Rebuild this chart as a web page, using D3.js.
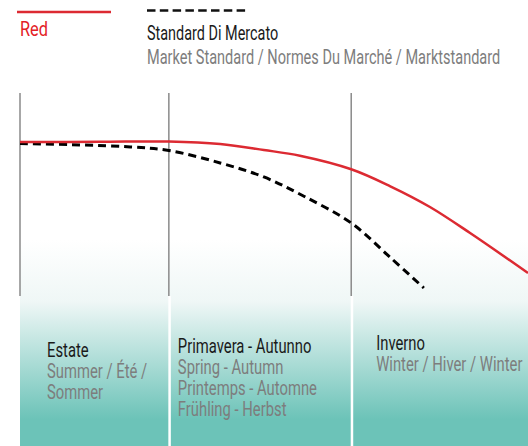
<!DOCTYPE html>
<html>
<head>
<meta charset="utf-8">
<script src="https://cdn.jsdelivr.net/npm/d3@7"></script>
<style>
  body { margin: 0; background: #fff; }
  svg { display: block; }
  text { font-family: Roboto, "Liberation Sans", sans-serif; }
</style>
</head>
<body>
<script>
// dimensioni
const WIDTH = 528, HEIGHT = 446;
const margin = {top: 93, right: 0, bottom: 150, left: 20};

// dati (asse x: posizione nell'anno 0-100, asse y: prestazione 0-100)
const redX = [0, 15.7, 29.3, 39.4, 48.0, 55.1, 65.2, 72.8, 80.7, 88.6, 100];
const redY = [100, 100.1, 100.3, 98.7, 94.8, 91.1, 82.3, 71.4, 57.8, 40.9, 14.9];

const marketX = [0, 11.8, 21.7, 29.3, 39.4, 48.0, 55.7, 65.2, 72.8, 79.5];
const marketY = [99.0, 98.1, 96.8, 94.5, 86.4, 77.3, 65.1, 47.4, 25.3, 5.2];

const seasonStart = [0, 29.3, 65.2];
const seasonTitles = ["Estate", "Primavera - Autunno", "Inverno"];
const seasonSubs = [
  ["Summer / Été /", "Sommer"],
  ["Spring - Autumn", "Printemps - Automne", "Frühling - Herbst"],
  ["Winter / Hiver / Winter"]
];

const RED = "#dc2a32";
const GREY_TXT = "#7d7d7d";

let svg = d3.select("body").append("svg")
    .attr("width", WIDTH)
    .attr("height", HEIGHT);

let x = d3.scaleLinear().domain([0, 100]).range([margin.left, WIDTH - margin.right]);
let y = d3.scaleLinear().domain([0, 100]).range([296, 142]);

// sfumatura di fondo
let defs = svg.append("defs");
let grad = defs.append("linearGradient")
    .attr("id", "teal").attr("x1", 0).attr("y1", 0).attr("x2", 0).attr("y2", 1);
grad.append("stop").attr("offset", "0").attr("stop-color", "#ffffff");
grad.append("stop").attr("offset", "0.3").attr("stop-color", "#eff7f6");
grad.append("stop").attr("offset", "0.87").attr("stop-color", "#6cc3b8");
grad.append("stop").attr("offset", "1").attr("stop-color", "#6cc3b8");

svg.append("rect")
    .attr("x", x(0)).attr("y", 240)
    .attr("width", x(100) - x(0)).attr("height", HEIGHT - 240)
    .attr("fill", "url(#teal)");

// separatori bianchi sotto le linee
svg.selectAll(".gap").data(seasonStart.slice(1)).enter().append("rect")
    .attr("x", d => x(d) - 0.5).attr("y", 296)
    .attr("width", 2.5).attr("height", HEIGHT - 296)
    .attr("fill", "#fff");

// linee verticali
svg.selectAll(".vline").data(seasonStart).enter().append("line")
    .attr("x1", d => x(d)).attr("x2", d => x(d))
    .attr("y1", margin.top).attr("y2", 296)
    .attr("stroke", "#8a8a8a").attr("stroke-width", 1.5);

// curve
let line = d3.line().curve(d3.curveCatmullRom.alpha(0.5));

svg.append("path")
    .attr("d", line(marketX.map((d, i) => [x(d), y(marketY[i])])))
    .attr("fill", "none").attr("stroke", "#000")
    .attr("stroke-width", 3).attr("stroke-dasharray", "8,5");

svg.append("path")
    .attr("d", line(redX.map((d, i) => [x(d), y(redY[i])])))
    .attr("fill", "none").attr("stroke", RED)
    .attr("stroke-width", 2.5);

// testo condensato: scala orizzontale
function label(tx, ty, str, size, sx, color) {
  return svg.append("text")
      .attr("transform", "translate(" + tx + "," + ty + ") scale(" + sx + ",1)")
      .attr("font-size", size)
      .attr("fill", color)
      .text(str);
}

// legenda
svg.append("line")
    .attr("x1", 17).attr("x2", 111).attr("y1", 12).attr("y2", 12)
    .attr("stroke", RED).attr("stroke-width", 2.5);
label(20, 36, "Red", 21, 0.78, "#e32127");

svg.append("line")
    .attr("x1", 147).attr("x2", 249).attr("y1", 10.5).attr("y2", 10.5)
    .attr("stroke", "#111").attr("stroke-width", 2.5).attr("stroke-dasharray", "8.5,4.3");
label(147, 40, "Standard Di Mercato", 19.5, 0.74, "#1a1a1a");
label(147, 64, "Market Standard / Normes Du Marché / Marktstandard", 19.5, 0.745, GREY_TXT);

// etichette stagioni
const titleY = [357, 353, 350];
seasonStart.forEach((s, i) => {
  let tx = x(s) + (i === 0 ? 27 : (i === 1 ? 9 : 25));
  label(tx, titleY[i], seasonTitles[i], 19.5, 0.76, "#1a1a1a");
  seasonSubs[i].forEach((t, j) => {
    label(tx, titleY[i] + 21 * (j + 1), t, 19.5, 0.76, GREY_TXT);
  });
});
</script>
</body>
</html>
